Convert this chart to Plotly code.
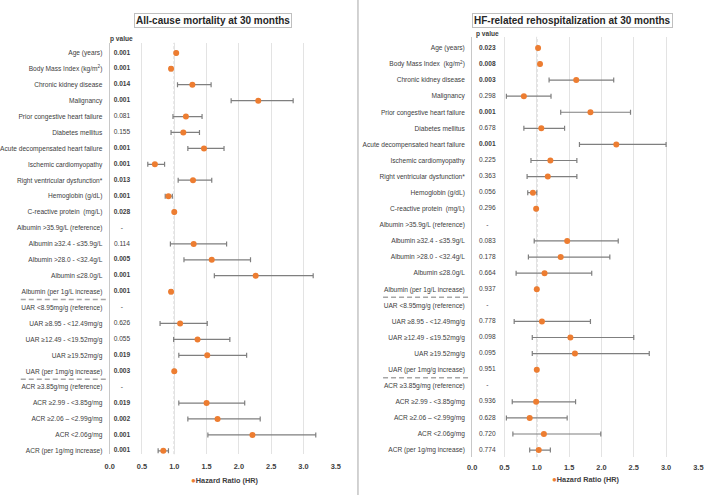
import plotly.graph_objects as go

# ---------------- data ----------------
labels_left = [
    "Age (years)", "Body Mass Index (kg/m<sup>2</sup>)", "Chronic kidney disease", "Malignancy",
    "Prior congestive heart failure", "Diabetes mellitus", "Acute decompensated heart failure",
    "Ischemic cardiomyopathy", "Right ventricular dysfunction*", "Hemoglobin (g/dL)",
    "C-reactive protein  (mg/L)", "Albumin >35.9g/L (reference)", "Albumin ≥32.4 - ≤35.9g/L",
    "Albumin >28.0 - <32.4g/L", "Albumin ≤28.0g/L", "Albumin (per 1g/L increase)",
    "UAR <8.95mg/g (reference)", "UAR ≥8.95 - <12.49mg/g", "UAR ≥12.49 - <19.52mg/g",
    "UAR ≥19.52mg/g", "UAR (per 1mg/g increase)", "ACR ≥3.85g/mg (reference)",
    "ACR ≥2.99 - <3.85g/mg", "ACR ≥2.06 – <2.99g/mg", "ACR <2.06g/mg", "ACR (per 1g/mg increase)",
]
labels_right = [
    "Age (years)", "Body Mass Index  (kg/m<sup>2</sup>)", "Chronic kidney disease", "Malignancy",
    "Prior congestive heart failure", "Diabetes mellitus", "Acute decompensated heart failure",
    "Ischemic cardiomyopathy", "Right ventricular dysfunction*", "Hemoglobin (g/dL)",
    "C-reactive protein  (mg/L)", "Albumin >35.9g/L (reference)", "Albumin ≥32.4 - ≤35.9g/L",
    "Albumin >28.0 - <32.4g/L", "Albumin ≤28.0g/L", "Albumin (per 1g/L increase)",
    "UAR <8.95mg/g (reference)", "UAR ≥8.95 - <12.49mg/g", "UAR ≥12.49 - ≤19.52mg/g",
    "UAR ≥19.52mg/g", "UAR (per 1mg/g increase)", "ACR ≥3.85g/mg (reference)",
    "ACR ≥2.99 - <3.85g/mg", "ACR ≥2.06 – <2.99g/mg", "ACR <2.06g/mg", "ACR (per 1g/mg increase)",
]

# All-cause mortality
hr_left = [1.03, 0.95, 1.28, 2.30, 1.18, 1.14, 1.46, 0.70, 1.29, 0.91, 1.00, None, 1.30, 1.58,
           2.26, 0.95, None, 1.09, 1.36, 1.51, 1.00, None, 1.50, 1.67, 2.21, 0.83]
lo_left = [1.02, 0.93, 1.05, 1.88, 0.98, 0.95, 1.21, 0.59, 1.06, 0.86, 0.99, None, 0.94, 1.15,
           1.62, 0.93, None, 0.78, 0.99, 1.07, 0.99, None, 1.07, 1.21, 1.52, 0.75]
hi_left = [1.04, 0.97, 1.57, 2.84, 1.43, 1.39, 1.77, 0.85, 1.58, 0.97, 1.01, None, 1.81, 2.18,
           3.15, 0.97, None, 1.51, 1.86, 2.12, 1.01, None, 2.09, 2.33, 3.19, 0.91]
p_left = ["0.001", "0.001", "0.014", "0.001", "0.081", "0.155", "0.001", "0.001", "0.013", "0.001",
          "0.028", "-", "0.114", "0.005", "0.001", "0.001", "-", "0.626", "0.055", "0.019",
          "0.003", "-", "0.019", "0.002", "0.001", "0.001"]

# HF-related rehospitalization
hr_right = [1.02, 1.05, 1.61, 0.80, 1.83, 1.07, 2.23, 1.21, 1.17, 0.94, 0.99, None, 1.47, 1.37,
            1.12, 1.00, None, 1.08, 1.52, 1.59, 1.00, None, 0.99, 0.89, 1.11, 1.03]
lo_right = [1.01, 1.04, 1.19, 0.53, 1.37, 0.80, 1.66, 0.91, 0.85, 0.86, 0.98, None, 0.96, 0.87,
            0.68, 0.99, None, 0.65, 0.93, 0.93, 0.99, None, 0.62, 0.53, 0.63, 0.89]
hi_right = [1.03, 1.06, 2.19, 1.22, 2.45, 1.43, 3.00, 1.62, 1.62, 1.00, 1.00, None, 2.26, 2.13,
            1.85, 1.01, None, 1.83, 2.50, 2.74, 1.01, None, 1.60, 1.47, 1.99, 1.21]
p_right = ["0.023", "0.008", "0.003", "0.298", "0.001", "0.678", "0.001", "0.225", "0.363", "0.056",
           "0.296", "-", "0.083", "0.178", "0.664", "0.937", "-", "0.778", "0.098", "0.095",
           "0.951", "-", "0.936", "0.628", "0.720", "0.774"]

tick_vals_x = [0.0, 0.5, 1.0, 1.5, 2.0, 2.5, 3.0, 3.5]
titles = ["All-cause mortality at 30 months", "HF-related rehospitalization at 30 months"]
legend_label = "Hazard Ratio (HR)"
separators_after = [15, 20]

# ---------------- style ----------------
FONT = "Arial, 'Liberation Sans', sans-serif"
ORANGE = "#ED7D31"
TXT = "#404040"
W, H = 709, 504


def px_x(v):
    return v / W


def px_y(v):
    return 1 - v / H


def bold_p(p):
    if p != "-" and float(p) < 0.05:
        return "<b>" + p + "</b>"
    return p


fig = go.Figure()

panels = [
    dict(hr=hr_left, lo=lo_left, hi=hi_left, p=p_left, labels=labels_left, xa="x", ya="y",
         px_x0=105.3, px_x1=335.0, top=43, bottom=455, row0=53, rowN=451.7,
         px_p=0.19, sep=(15, 103), title_cx=210.5, ph_y=39, leg=(185.5, 481.5)),
    dict(hr=hr_right, lo=lo_right, hi=hi_right, p=p_right, labels=labels_right, xa="x2", ya="y2",
         px_x0=473.5, px_x1=703.3, top=37, bottom=458, row0=48, rowN=451,
         px_p=0.235, sep=(383, 471), title_cx=575.7, ph_y=33.7, leg=(552.5, 480.5)),
]

shapes = []
annotations = []
for i, pn in enumerate(panels):
    n = len(pn["labels"])
    rows = list(range(n))
    xs, ys, ep, em = [], [], [], []
    for r, h, l, u in zip(rows, pn["hr"], pn["lo"], pn["hi"]):
        if h is None:
            continue
        xs.append(h)
        ys.append(r)
        ep.append(u - h)
        em.append(h - l)
    fig.add_trace(go.Scatter(
        x=xs, y=ys, mode="markers", name=legend_label,
        marker=dict(color=ORANGE, size=6),
        error_x=dict(type="data", array=ep, arrayminus=em, color="#7f7f7f", thickness=1.2, width=2.5),
        xaxis=pn["xa"], yaxis=pn["ya"], showlegend=False,
    ))
    # p-values column
    fig.add_trace(go.Scatter(
        x=[pn["px_p"]] * n, y=rows, mode="text", text=[bold_p(p) for p in pn["p"]],
        textposition="middle center", textfont=dict(family=FONT, size=6.6, color=TXT),
        xaxis=pn["xa"], yaxis=pn["ya"], showlegend=False, hoverinfo="skip",
    ))
    spacing = (pn["rowN"] - pn["row0"]) / (n - 1)
    r_top = -(pn["row0"] - pn["top"]) / spacing
    r_bot = (n - 1) + (pn["bottom"] - pn["rowN"]) / spacing
    sfx = "" if i == 0 else "2"
    fig.update_layout(**{
        "xaxis" + sfx: dict(
            domain=[px_x(pn["px_x0"]), px_x(pn["px_x1"])], range=[0, 3.5], anchor="y" + sfx,
            tickvals=tick_vals_x, ticktext=["%.1f" % v for v in tick_vals_x],
            showgrid=True, gridcolor="#e3e3e3", gridwidth=1, zeroline=False, showline=False,
            tickfont=dict(family=FONT, size=7.4, color=TXT, weight="bold"), ticks="",
            ticklabelstandoff=7 if i == 0 else 5, fixedrange=True,
        ),
        "yaxis" + sfx: dict(
            domain=[px_y(pn["bottom"]), px_y(pn["top"])], range=[r_bot, r_top], anchor="x" + sfx,
            tickvals=rows, ticktext=pn["labels"], showgrid=False, zeroline=False,
            showline=True, linecolor="#c8c8c8", linewidth=1, ticks="", ticklabelstandoff=5,
            tickfont=dict(family=FONT, size=6.6, color=TXT),
        ),
    })
    # reference line at HR = 1
    shapes.append(dict(type="line", xref=pn["xa"], yref=pn["ya"] + " domain", x0=1, x1=1, y0=0, y1=1,
                       line=dict(color="#a0a0a0", width=1, dash="3px,2px"), layer="below"))
    # dashed separators
    for s in separators_after:
        shapes.append(dict(type="line", xref="paper", yref=pn["ya"],
                           x0=px_x(pn["sep"][0]), x1=px_x(pn["sep"][1]), y0=s + 0.5, y1=s + 0.5,
                           line=dict(color="#a6a6a6", width=1.5, dash="5px,3px")))
    # title box
    annotations.append(dict(
        text="<b>" + titles[i] + "</b>", xref="paper", yref="paper",
        x=px_x(pn["title_cx"]), y=px_y(21), xanchor="center", yanchor="middle", showarrow=False,
        font=dict(family=FONT, size=10, color="#262626"), bordercolor="#bfbfbf", borderwidth=1,
        borderpad=1, bgcolor="white",
    ))
    # p value header
    annotations.append(dict(
        text="<b>p value</b>", xref=pn["xa"], yref="paper", x=pn["px_p"], y=px_y(pn["ph_y"]),
        xanchor="center", yanchor="middle", showarrow=False,
        font=dict(family=FONT, size=6.6, color=TXT),
    ))
    # legend (marker + label)
    annotations.append(dict(
        text='<span style="color:%s;font-size:8px">●</span><b>%s</b>' % (ORANGE, legend_label),
        xref="paper", yref="paper", x=px_x(pn["leg"][0]), y=px_y(pn["leg"][1]),
        xanchor="left", yanchor="middle", showarrow=False,
        font=dict(family=FONT, size=7.3, color=TXT),
    ))

# divider between the two panels
shapes.append(dict(type="line", xref="paper", yref="paper", x0=px_x(357.5), x1=px_x(357.5),
                   y0=px_y(0), y1=px_y(496), line=dict(color="#c4c4c4", width=1.5)))

fig.update_layout(
    width=W, height=H, margin=dict(l=0, r=0, t=0, b=0),
    paper_bgcolor="white", plot_bgcolor="white",
    font=dict(family=FONT, color=TXT),
    shapes=shapes, annotations=annotations, showlegend=False,
)

fig.write_html("out.html")
